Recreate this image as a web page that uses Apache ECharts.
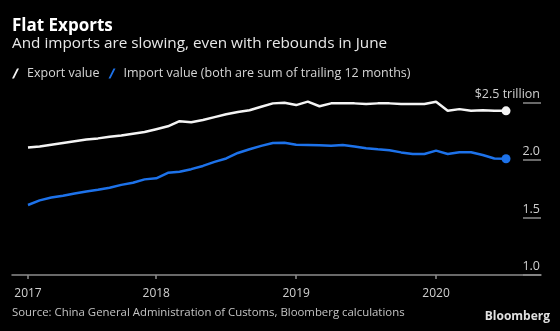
<!DOCTYPE html>
<html>
<head>
<meta charset="utf-8">
<script src="https://cdn.jsdelivr.net/npm/echarts@6/dist/echarts.min.js"></script>
<style>
  html, body { margin: 0; padding: 0; background: #000; }
  #chart { width: 560px; height: 331px; }
</style>
</head>
<body>
<div id="chart"></div>
<script>
// Monthly observations, Jan 2017 .. Jun 2020, trillions of US dollars (trailing 12-month sums)
const exportValue = [
  2.11, 2.12, 2.135, 2.15, 2.165, 2.18, 2.19, 2.205, 2.215, 2.23, 2.245, 2.27,
  2.295, 2.34, 2.33, 2.35, 2.375, 2.40, 2.42, 2.435, 2.465, 2.495, 2.50, 2.48,
  2.51, 2.47, 2.495, 2.495, 2.495, 2.49, 2.495, 2.495, 2.49, 2.49, 2.49, 2.51,
  2.43, 2.445, 2.43, 2.435, 2.43, 2.43
];
const importValue = [
  1.61, 1.65, 1.675, 1.69, 1.71, 1.728, 1.742, 1.76, 1.785, 1.803, 1.833, 1.842,
  1.89, 1.90, 1.922, 1.95, 1.985, 2.015, 2.063, 2.095, 2.125, 2.15, 2.152, 2.135,
  2.133, 2.13, 2.125, 2.132, 2.12, 2.105, 2.095, 2.087, 2.068, 2.055, 2.054, 2.083,
  2.054, 2.07, 2.07, 2.045, 2.015, 2.013
];
// x positions of the year labels (month index) and their text
const yearTickIndex = [0, 11, 23, 35];
const yearTickLabels = ['2017', '2018', '2019', '2020'];
// value-axis ticks
const valueTicks = [1.0, 1.5, 2.0, 2.5];
const valueTickLabels = ['1.0', '1.5', '2.0', '$2.5 trillion'];

const FONT = 'Open Sans';
const WHITE = '#f4f4f4';
const BLUE = '#1d72ea';
const GREY = '#8c8c8c';

const toPoints = arr => arr.map((v, i) => [i, v]);
const lastIdx = exportValue.length - 1;
const endDot = (val, p) => (p.dataIndex === lastIdx ? 'circle' : 'none');

const chart = echarts.init(document.getElementById('chart'), null, { renderer: 'canvas' });
chart.setOption({
  backgroundColor: '#000',
  animation: false,
  legend: {
    left: 12, top: 67, padding: 0, itemGap: 9,
    itemWidth: 7, itemHeight: 10,
    icon: 'path://M0,10 L5,0 L7,0 L2,10 Z',
    textStyle: { fontFamily: FONT, fontSize: 12.5, color: '#d6d6d6', padding: [0, 0, 0, 3] },
    formatter: name => name === 'Import value' ? name + ' (both are sum of trailing 12 months)' : name,
    data: ['Export value', 'Import value']
  },
  grid: { left: 12, right: 19, top: 102.8, bottom: 56 },
  xAxis: {
    type: 'value',
    min: -1.372, max: 44.0,
    splitLine: { show: false },
    axisLine: { show: true, lineStyle: { color: GREY, width: 1.5 } },
    axisTick: { show: true, customValues: yearTickIndex, length: 4, lineStyle: { color: GREY, width: 1.5 } },
    axisLabel: {
      customValues: yearTickIndex, margin: 13,
      fontFamily: FONT, fontSize: 12, color: '#d0d0d0',
      formatter: v => yearTickLabels[yearTickIndex.indexOf(Math.round(v))] || ''
    }
  },
  yAxis: {
    type: 'value', position: 'right', offset: -18,
    min: 1.0, max: 2.5, interval: 0.5,
    splitLine: { show: false },
    axisLine: { show: false, onZero: false },
    axisTick: { show: true, inside: false, length: 18, lineStyle: { color: GREY, width: 1.5 } },
    axisLabel: {
      inside: false, margin: 17, align: 'right', verticalAlign: 'bottom', padding: [0, 0, 2, 0],
      fontFamily: FONT, fontSize: 12.5, color: '#d0d0d0',
      formatter: v => {
        const k = valueTicks.findIndex(t => Math.abs(t - v) < 1e-6);
        return k >= 0 ? valueTickLabels[k] : '';
      }
    }
  },
  series: [
    {
      name: 'Export value', type: 'line', clip: false,
      data: toPoints(exportValue),
      showSymbol: true, symbol: endDot, symbolSize: 9,
      color: WHITE,
      lineStyle: { color: WHITE, width: 2.5 },
      itemStyle: { color: WHITE }
    },
    {
      name: 'Import value', type: 'line', clip: false,
      data: toPoints(importValue),
      showSymbol: true, symbol: endDot, symbolSize: 9,
      color: BLUE,
      lineStyle: { color: BLUE, width: 2.5 },
      itemStyle: { color: BLUE }
    }
  ],
  graphic: [
    {
      type: 'text', left: 12, top: 18,
      style: { text: 'Flat Exports', fontFamily: FONT, fontSize: 17, fontWeight: 'bold', fill: '#ffffff' }
    },
    {
      type: 'text', left: 12, top: 36,
      style: {
        text: 'And imports are slowing, even with rebounds in June',
        fontFamily: FONT, fontSize: 15.3, fill: '#e8e8e8'
      }
    },
    {
      type: 'text', left: 12, top: 307,
      style: {
        text: 'Source: China General Administration of Customs, Bloomberg calculations',
        fontFamily: FONT, fontSize: 11.4, fill: '#c4c4c4'
      }
    },
    {
      type: 'text', right: 10, top: 311,
      style: { text: 'Bloomberg', fontFamily: FONT, fontSize: 12, fontWeight: 'bold', fill: '#e0e0e0' }
    }
  ]
});
</script>
</body>
</html>
